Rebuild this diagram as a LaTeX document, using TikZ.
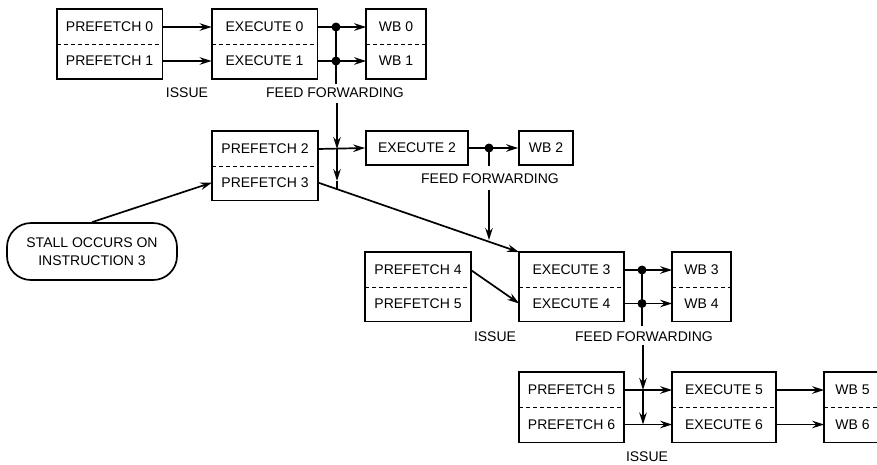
\documentclass[tikz,border=0pt]{standalone}
\usepackage{fontspec}
\setmainfont{Liberation Sans}
\usetikzlibrary{arrows.meta}
\begin{document}
\begin{tikzpicture}[x=1pt,y=-1pt,
  line width=1.7pt,
  every node/.style={font=\fontsize{14}{15.5}\selectfont},
  half/.style={minimum height=34pt, inner sep=0pt},
  pbox/.style={half, minimum width=104pt},
  ebox/.style={half, minimum width=104pt},
  wbox/.style={half, minimum width=58pt},
  single/.style={draw, minimum height=34pt, inner sep=0pt},
  lbl/.style={inner sep=0pt},
  arr/.style={-{Stealth[length=12pt,width=7.5pt,inset=4pt]}},
  sep/.style={line width=1.2pt, dash pattern=on 4pt off 3pt},
  dot/.style={circle, fill=black, inner sep=0pt, minimum size=9pt}
]
\useasboundingbox (0,0) rectangle (877,464);

% ---------- row 1
\node[pbox] (p0) at (109.5,27) {PREFETCH 0};
\node[pbox] (p1) at (109.5,61) {PREFETCH 1};
\node[ebox] (e0) at (264.5,27) {EXECUTE 0};
\node[ebox] (e1) at (264.5,61) {EXECUTE 1};
\node[wbox] (w0) at (396,27) {WB 0};
\node[wbox] (w1) at (396,61) {WB 1};
\foreach \a/\b in {p0/p1,e0/e1,w0/w1}{
  \draw (\a.north west) rectangle (\b.south east);
  \draw[sep] (\a.south west) -- (\a.south east);
}
\node[lbl] (is1) at (187,93) {ISSUE};
\node[lbl] (ff1) at (335,93) {FEED FORWARDING};
\node[dot] (d0) at (336,27) {};
\node[dot] (d1) at (336,61) {};
\coordinate (d1b) at (336,84);
\draw[arr] (p0) -- (e0);
\draw[arr] (p1) -- (e1);
\draw (e0.east) -- (d0.center);
\draw (e1.east) -- (d1.center);
\draw[arr] (d0.center) -- (w0.west);
\draw[arr] (d1.center) -- (w1.west);
\draw (d0.center) -- (d1b);

% ---------- row 2
\node[pbox] (p2) at (265,149) {PREFETCH 2};
\node[pbox] (p3) at (265,182.5) {PREFETCH 3};
\draw (p2.north west) rectangle (p3.south east);
\draw[sep] (p2.south west) -- (p2.south east);
\node[single, minimum width=102pt] (e2) at (417,148) {EXECUTE 2};
\node[single, minimum width=54pt] (w2) at (546,148) {WB 2};
\node[dot] (d2) at (489,148) {};
\coordinate (d2b) at (489,166);
\node[lbl] (ff2) at (490,179) {FEED FORWARDING};
\coordinate (v1a) at (337,103);
\coordinate (v1b) at (337,149);
\coordinate (v1c) at (337,181);
\coordinate (v1d) at (337,189);
\draw[arr] (v1a) -- (v1b);
\draw[arr] (v1b) -- (v1c);
\draw (v1c) -- (v1d);
\draw[arr] (p2.east) -- (e2.west);
\draw (e2.east) -- (d2.center);
\draw[arr] (d2.center) -- (w2.west);
\draw (d2.center) -- (d2b);
\coordinate (v2a) at (489,190);
\coordinate (v2b) at (489,240);
\draw[arr] (v2a) -- (v2b);

% ---------- stall
\node[draw, rounded corners=24pt, minimum width=170pt, minimum height=57pt, align=center, inner sep=0pt]
  (st) at (92,251.5) {STALL OCCURS ON\\[3pt]INSTRUCTION 3};
\draw[arr] (st.north) -- (p3.west);

% ---------- row 3
\node[pbox] (p4) at (418,270) {PREFETCH 4};
\node[pbox] (p5a) at (418,303.5) {PREFETCH 5};
\draw (p4.north west) rectangle (p5a.south east);
\draw[sep] (p4.south west) -- (p4.south east);
\node[ebox, minimum width=103pt] (e3) at (571.5,270) {EXECUTE 3};
\node[ebox, minimum width=103pt] (e4) at (571.5,303.5) {EXECUTE 4};
\draw (e3.north west) rectangle (e4.south east);
\draw[sep] (e3.south west) -- (e3.south east);
\node[wbox, minimum width=57pt] (w3) at (701.5,270) {WB 3};
\node[wbox, minimum width=57pt] (w4) at (701.5,303.5) {WB 4};
\draw (w3.north west) rectangle (w4.south east);
\draw[sep] (w3.south west) -- (w3.south east);
\draw[arr] (p3.east) -- (e3.north west);
\draw[arr] (p4.east) -- (e4.west);
\node[dot] (d3) at (642,270) {};
\node[dot] (d4) at (642,303.5) {};
\coordinate (d4b) at (642,326);
\draw (e3.east) -- (d3.center);
\draw (e4.east) -- (d4.center);
\draw[arr] (d3.center) -- (w3.west);
\draw[arr] (d4.center) -- (w4.west);
\draw (d3.center) -- (d4b);
\node[lbl] (is2) at (495,337) {ISSUE};
\node[lbl] (ff3) at (644,337) {FEED FORWARDING};

% ---------- row 4
\node[pbox, minimum width=103pt] (p5) at (571.5,390) {PREFETCH 5};
\node[pbox, minimum width=103pt] (p6) at (571.5,424.5) {PREFETCH 6};
\draw (p5.north west) rectangle (p6.south east);
\draw[sep] (p5.south west) -- (p5.south east);
\node[ebox, minimum width=102pt] (e5) at (724,390) {EXECUTE 5};
\node[ebox, minimum width=102pt] (e6) at (724,424.5) {EXECUTE 6};
\draw (e5.north west) rectangle (e6.south east);
\draw[sep] (e5.south west) -- (e5.south east);
\node[wbox, minimum width=55pt] (w5) at (852.5,390) {WB 5};
\node[wbox, minimum width=55pt] (w6) at (852.5,424.5) {WB 6};
\draw (w5.north west) rectangle (w6.south east);
\draw[sep] (w5.south west) -- (w5.south east);
\coordinate (v3a) at (643,345);
\coordinate (v3b) at (643,390);
\coordinate (v3c) at (643,424.5);
\draw[arr] (v3a) -- (v3b);
\draw[arr] (v3b) -- (v3c);
\draw[arr] (p5.east) -- (e5.west);
\draw[arr] (p6.east) -- (e6.west);
\draw[arr] (e5.east) -- (w5.west);
\draw[arr] (e6.east) -- (w6.west);
\node[lbl] (is3) at (647,457) {ISSUE};
\end{tikzpicture}
\end{document}
